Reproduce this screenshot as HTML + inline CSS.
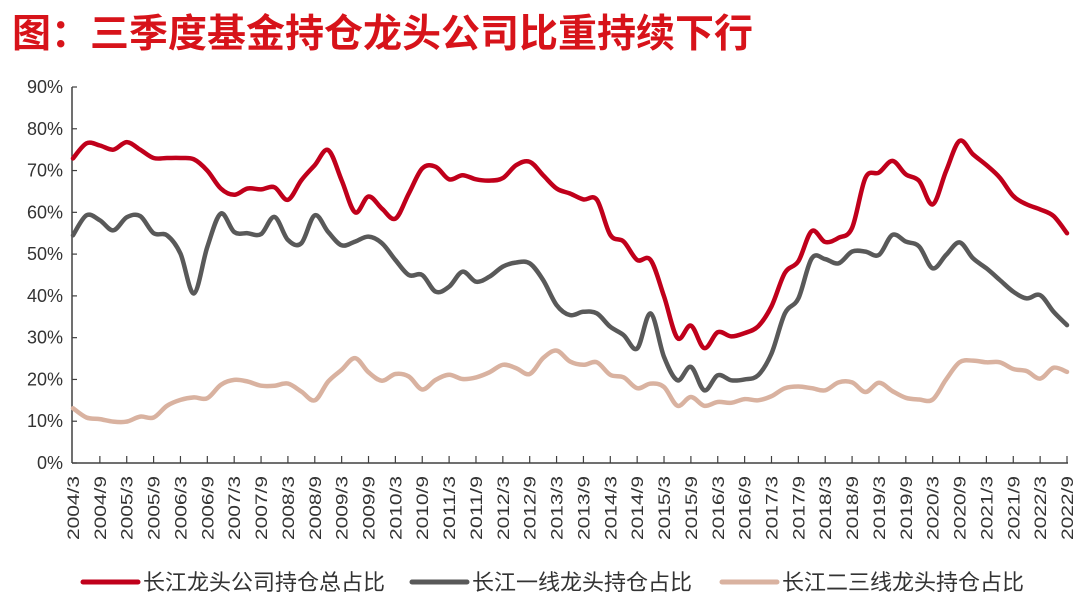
<!DOCTYPE html>
<html><head><meta charset="utf-8"><style>
body{margin:0;background:#fff;width:1080px;height:599px;overflow:hidden;font-family:"Liberation Sans","Noto Sans CJK SC",sans-serif}
#title{position:absolute;left:12px;top:3px;font-size:39px;font-weight:bold;color:#d7131a;font-family:"Liberation Sans","Noto Sans CJK SC",sans-serif;white-space:nowrap}
svg{position:absolute;left:0;top:0}
</style></head><body>
<div id="title">图：三季度基金持仓龙头公司比重持续下行</div>
<svg id="chart" width="1080" height="599"></svg>
<script>
const redVals=[72.9,76.5,76,75,76.8,75,73,73,73,72.7,70,65.7,64.2,65.7,65.5,66,63,67.7,71.3,74.9,67.7,60,63.8,60.9,58.5,64.5,70.5,70.9,67.9,68.9,67.9,67.6,68.2,71.3,72.1,68.9,65.7,64.5,63.1,63,54.6,53,48.6,48.6,39.9,29.9,32.9,27.5,31.3,30.3,31.1,32.7,37.5,45.5,48.3,55.5,52.9,53.9,56.3,68.3,69.5,72.3,69.1,67.5,61.9,69.9,77.1,73.9,71.3,68.3,63.9,61.9,60.7,59.1,55];
const greyVals=[54.5,59.3,58.1,55.7,58.8,59.1,55,54.5,50.1,40.6,51.7,59.7,55.3,55,54.8,58.9,53.4,52.6,59.3,55.3,52.1,53,54.2,52.6,48.6,45,45,41,42.2,45.8,43.4,44.6,47,48,47.8,43.8,37.8,35.4,36.2,35.8,32.6,30.6,27.4,35.8,25.4,19.8,23,17.4,21,19.8,20,21,26.2,35.8,39.4,49,48.8,47.8,50.6,50.6,49.8,54.6,53,51.8,46.6,49.8,52.8,49,46.6,43.8,41,39.4,40.2,36.2,33];
const beigeVals=[13.1,10.9,10.5,9.9,9.9,11.1,10.9,13.7,15.1,15.7,15.5,18.7,19.9,19.5,18.5,18.5,19,17.1,15,19.5,22.3,25.1,21.7,19.7,21.3,20.7,17.6,19.9,21.1,20.1,20.5,21.7,23.5,22.7,21.3,25.1,26.9,24.3,23.5,24.1,21.1,20.5,17.9,19,18.2,13.7,15.8,13.7,14.6,14.4,15.3,15,16,17.9,18.3,17.9,17.4,19.3,19.3,17,19.2,17.2,15.6,15.2,15.2,20,24.1,24.5,24.1,24.1,22.5,22,20.2,22.8,21.8];
const yTicks=[0,10,20,30,40,50,60,70,80,90];
const categories=[];for(let y=2004;y<=2022;y++){for(const m of [3,6,9,12]){categories.push(y+'/'+m);}}
categories.length=75;
const seriesNames=['长江龙头公司持仓总占比','长江一线龙头持仓占比','长江二三线龙头持仓占比'];
const colors=['#c0001b','#595959','#d9b2a0'];
const NS='http://www.w3.org/2000/svg';
const svg=document.getElementById('chart');
const X0=73,X1=1067,Y0=463,Y90=87,AX=72;
const xs=i=>X0+(X1-X0)*i/(categories.length-1);
const ys=v=>Y0-(Y0-Y90)*v/90;
function mk(t,a){const e=document.createElementNS(NS,t);for(const k in a)e.setAttribute(k,a[k]);svg.appendChild(e);return e;}
let ax=mk('line',{x1:AX,y1:Y90,x2:AX,y2:Y0,stroke:'#404040','stroke-width':1.5});


let bx=mk('line',{x1:AX,y1:Y0,x2:X1+1,y2:Y0,stroke:'#404040','stroke-width':1.5});


yTicks.forEach(v=>{
 const t=mk('line',{x1:AX,y1:ys(v),x2:AX+5,y2:ys(v),stroke:'#404040','stroke-width':1.2});
 
 
 const l=mk('text',{x:63,y:ys(v)+6,'text-anchor':'end','font-size':18,fill:'#333'});
 l.textContent=v+'%';
 
 
});
categories.forEach((c,i)=>{
 if(i%2!==0)return;
 if(i>0){const t=mk('line',{x1:xs(i),y1:Y0,x2:xs(i),y2:Y0-7,stroke:'#404040','stroke-width':1.2});
 
 }
 const l=mk('text',{x:0,y:0,'text-anchor':'end','font-size':17,fill:'#333',textLength:64,lengthAdjust:'spacingAndGlyphs',transform:`translate(${xs(i)+6},476) rotate(-90)`});
 l.textContent=c;
 
 
});
function smooth(vals){
 const p=vals.map((v,i)=>[xs(i),ys(v)]);
 let d='M'+p[0][0]+','+p[0][1];
 for(let i=0;i<p.length-1;i++){
  const p0=p[i-1]||p[i],p1=p[i],p2=p[i+1],p3=p[i+2]||p[i+1];
  const c1=[p1[0]+(p2[0]-p0[0])/6,p1[1]+(p2[1]-p0[1])/6];
  const c2=[p2[0]-(p3[0]-p1[0])/6,p2[1]-(p3[1]-p1[1])/6];
  d+=`C${c1[0].toFixed(1)},${c1[1].toFixed(1)} ${c2[0].toFixed(1)},${c2[1].toFixed(1)} ${p2[0].toFixed(1)},${p2[1].toFixed(1)}`;
 }
 return d;
}
const allSeries=[redVals,greyVals,beigeVals];
const sNames=['series-total','series-first-tier','series-second-third-tier'];
[2,1,0].forEach(k=>{
 const p=mk('path',{d:smooth(allSeries[k]),fill:'none',stroke:colors[k],'stroke-width':4.5,'stroke-linejoin':'round','stroke-linecap':'round'});
 
 
});
const legX=[83,412,722];
seriesNames.forEach((n,k)=>{
 const g=mk('g',{});
 
 
 const ln=document.createElementNS(NS,'line');
 ln.setAttribute('x1',legX[k]);ln.setAttribute('x2',legX[k]+55);ln.setAttribute('y1',582);ln.setAttribute('y2',582);
 ln.setAttribute('stroke',colors[k]);ln.setAttribute('stroke-width',5);ln.setAttribute('stroke-linecap','round');
 g.appendChild(ln);
 const t=document.createElementNS(NS,'text');
 t.setAttribute('x',legX[k]+60);t.setAttribute('y',590);t.setAttribute('font-size',22);t.setAttribute('fill','#333');
 t.textContent=n;g.appendChild(t);
});
</script>
</body></html>
